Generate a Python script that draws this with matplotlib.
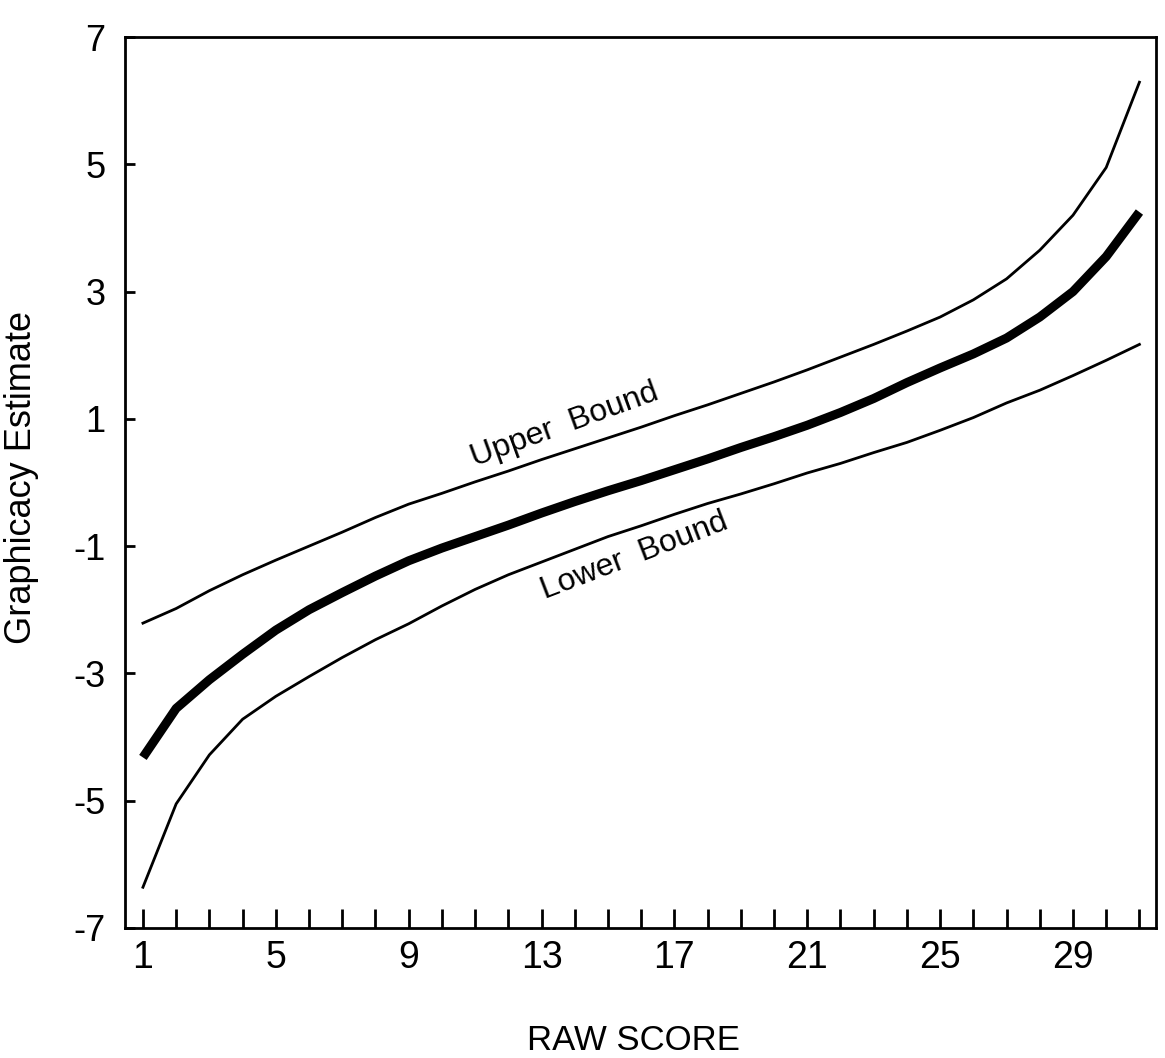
import matplotlib.pyplot as plt

plt.rcParams['font.family'] = ['Liberation Sans', 'DejaVu Sans']
plt.rcParams['axes.unicode_minus'] = False

raw_score = list(range(1, 32))

estimate = [-4.32, -3.55, -3.10, -2.70, -2.32, -2.00, -1.73, -1.47, -1.23, -1.03,
            -0.85, -0.67, -0.48, -0.30, -0.13, 0.03, 0.20, 0.37, 0.55, 0.72,
            0.90, 1.10, 1.32, 1.57, 1.80, 2.02, 2.27, 2.60, 3.00, 3.55, 4.25]

upper_bound = [-2.21, -1.98, -1.70, -1.45, -1.22, -1.00, -0.78, -0.55, -0.34, -0.17,
               0.01, 0.18, 0.36, 0.53, 0.70, 0.87, 1.05, 1.22, 1.40, 1.58,
               1.77, 1.97, 2.17, 2.38, 2.60, 2.87, 3.20, 3.65, 4.20, 4.95, 6.29]

lower_bound = [-6.36, -5.05, -4.28, -3.72, -3.36, -3.05, -2.75, -2.47, -2.22, -1.94,
               -1.68, -1.45, -1.25, -1.05, -0.85, -0.68, -0.50, -0.33, -0.18, -0.02,
               0.15, 0.30, 0.47, 0.63, 0.82, 1.02, 1.25, 1.45, 1.68, 1.92, 2.17]

x_labels = [str(v) if (v - 1) % 4 == 0 else '' for v in raw_score]
y_ticks = [-7, -5, -3, -1, 1, 3, 5, 7]

fig = plt.figure(figsize=(11.65, 10.58), dpi=100)
ax = fig.add_axes([0.1073, 0.1229, 0.885, 0.8421])

ax.plot(raw_score, upper_bound, color='black', lw=2.0, solid_joinstyle='round')
ax.plot(raw_score, estimate, color='black', lw=6.5, solid_capstyle='butt',
        solid_joinstyle='round')
ax.plot(raw_score, lower_bound, color='black', lw=2.0, solid_joinstyle='round')

ax.text(13.7, 0.9, 'Upper  Bound', rotation=20, fontsize=23,
        ha='center', va='center', rotation_mode='anchor')
ax.text(15.8, -1.15, 'Lower  Bound', rotation=21, fontsize=23,
        ha='center', va='center', rotation_mode='anchor')

ax.set_xlim(0.46, 31.5)
ax.set_ylim(-7, 7)
ax.set_xticks(raw_score)
ax.set_xticklabels(x_labels)
ax.set_yticks(y_ticks)
ax.tick_params(axis='x', direction='in', length=14, width=2, labelsize=27, pad=9)
ax.tick_params(axis='y', direction='in', length=7, width=2, labelsize=26, pad=14)
for s in ax.spines.values():
    s.set_linewidth(2)

fig.text(633 / 1165, 1 - 1040 / 1058, 'RAW SCORE', fontsize=25,
         ha='center', va='center')
fig.text(22 / 1165, 1 - 477 / 1058, 'Graphicacy Estimate', fontsize=26,
         rotation=90, ha='center', va='center')

fig.savefig('out.png', dpi=100)
